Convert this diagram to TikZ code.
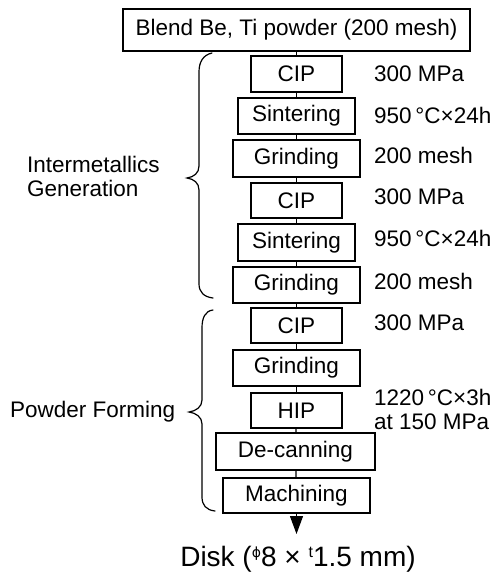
\documentclass[tikz,border=0pt]{standalone}
\usepackage{fontspec}
\setmainfont{Liberation Sans}
\newfontfamily\djv{DejaVu Sans}
\usetikzlibrary{arrows.meta}
\tikzset{
  box/.style={draw, line width=1.2pt, rectangle, inner sep=0pt, font=\fontsize{22.5}{24}\selectfont},
  lbl/.style={anchor=west, inner sep=0pt, font=\fontsize{22.5}{24}\selectfont},
  conn/.style={line width=1.2pt},
  bracepath/.style={line width=1.2pt, line cap=round},
}
\begin{document}
\begin{tikzpicture}[x=1pt,y=-1pt]
\useasboundingbox (0,0) rectangle (490,576);
\node[box, minimum width=347pt, minimum height=42pt] (top) at (296.5,30) {Blend Be, Ti powder (200 mesh)};
\node[box, minimum width=91pt, minimum height=36pt] (cipa) at (296.5,74) {CIP};
\node[box, minimum width=117pt, minimum height=36pt] (sinta) at (296.5,116) {Sintering};
\node[box, minimum width=127pt, minimum height=37pt] (grinda) at (296.5,158.5) {Grinding};
\node[box, minimum width=91pt, minimum height=35pt] (cipb) at (296.5,200.5) {CIP};
\node[box, minimum width=117pt, minimum height=37pt] (sintb) at (296.5,242.5) {Sintering};
\node[box, minimum width=127pt, minimum height=36pt] (grindb) at (296.5,285) {Grinding};
\node[box, minimum width=91pt, minimum height=35pt] (cipc) at (296.5,325.5) {CIP};
\node[box, minimum width=127pt, minimum height=36pt] (grindc) at (296.5,368) {Grinding};
\node[box, minimum width=91pt, minimum height=35pt] (hip) at (296.5,410.5) {HIP};
\node[box, minimum width=159pt, minimum height=37pt] (decan) at (295.5,451.5) {De-canning};
\node[box, minimum width=147pt, minimum height=35pt] (mach) at (296.5,495.5) {Machining};
\coordinate (arrowend) at (296.5,534);
\node[inner sep=0pt, font=\fontsize{28}{30}\selectfont] (disk) at (298,559)
  {Disk (\raisebox{9pt}{\djv\fontsize{14}{14}\selectfont ϕ}8 × \raisebox{9pt}{\fontsize{16}{16}\selectfont t}1.5 mm)};

\draw[conn] (top) -- (cipa);
\draw[conn] (cipa) -- (sinta);
\draw[conn] (sinta) -- (grinda);
\draw[conn] (grinda) -- (cipb);
\draw[conn] (cipb) -- (sintb);
\draw[conn] (sintb) -- (grindb);
\draw[conn] (grindb) -- (cipc);
\draw[conn] (cipc) -- (grindc);
\draw[conn] (grindc) -- (hip);
\draw[conn] (hip) -- (decan);
\draw[conn] (decan) -- (mach);
\draw[conn, -{Triangle[length=18pt,width=13pt]}] (mach) -- (arrowend);

\node[lbl] (la) at (374,74) {300 MPa};
\node[lbl] (lb) at (374,115) {950\,°C×24h};
\node[lbl] (lc) at (374,155) {200 mesh};
\node[lbl] (ld) at (374,197) {300 MPa};
\node[lbl] (le) at (374,238) {950\,°C×24h};
\node[lbl] (lf) at (374,281) {200 mesh};
\node[lbl] (lg) at (374,323) {300 MPa};
\node[lbl, align=left] (lh) at (374,409) {1220\,°C×3h\\at 150 MPa};

\node[lbl, align=left] (inter) at (27,176) {Intermetallics\\Generation};
\node[lbl] (pform) at (10,412) {Powder Forming};

\draw[bracepath] (212,53) .. controls (203,55) and (199,62) .. (199,72) -- (199,166)
  .. controls (199,173) and (194,177) .. (187,178)
  .. controls (194,179) and (199,183) .. (199,190) -- (199,284)
  .. controls (199,292) and (204,297) .. (213,298);
\draw[bracepath] (213,310) .. controls (205,311) and (202,318) .. (202,328) -- (202,400)
  .. controls (202,407) and (196,411) .. (189,412)
  .. controls (196,413) and (202,417) .. (202,424) -- (202,497)
  .. controls (202,505) and (206,510) .. (215,511);
\end{tikzpicture}
\end{document}
